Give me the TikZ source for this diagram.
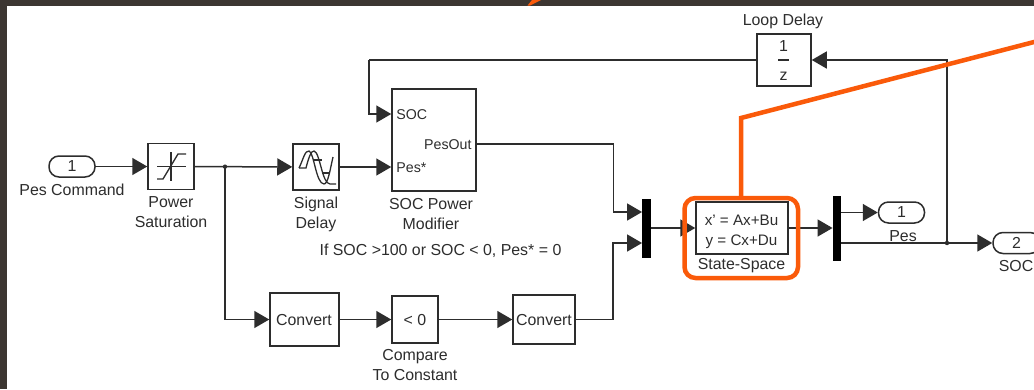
\documentclass[tikz,border=0pt]{standalone}
\usepackage{fontspec}
\setmainfont{Liberation Sans}
\usetikzlibrary{arrows.meta,positioning,calc}
\definecolor{frameDark}{RGB}{60,54,50}
\definecolor{wireDark}{RGB}{45,45,45}
\definecolor{calloutOrange}{RGB}{250,90,10}
\begin{document}
\begin{tikzpicture}[x=1pt,y=-1pt,
    font=\fontsize{15.9}{20}\selectfont, text=wireDark,
    block/.style={draw=wireDark, line width=1.5pt, fill=white, inner sep=0pt},
    port/.style={draw=wireDark, line width=1.5pt, fill=white, rounded corners=10pt,
                 minimum width=46pt, minimum height=21pt, inner sep=0pt},
    bar/.style={fill=black, inner sep=0pt, minimum width=8.5pt},
    label/.style={align=center, inner sep=0pt},
    inner/.style={label, font=\fontsize{14.2}{20}\selectfont},
    wire/.style={draw=wireDark, line width=1.5pt},
    icon/.style={draw=wireDark, line width=1.3pt},
    sig/.style={wire, -{Triangle[length=15pt,width=17pt]}},
    callout/.style={draw=calloutOrange, line width=4.5pt}]
  \useasboundingbox (0,0) rectangle (1034,389);
  \fill[white] (0,0) rectangle (1034,389);

  % Frame and callout tip
  \fill[frameDark] (0,0) rectangle (1034,5.5);
  \fill[frameDark] (0,0) rectangle (6.5,389);
  \fill[calloutOrange] (527.5,5.5) -- (532,0) -- (541,0) -- (530,5.5) -- cycle;

  % Blocks
  \node[port] (pesIn) at (72,166.5) {1};
  \node[label] (pesInLab) at (72,190) {Pes Command};
  \node[block, minimum width=46pt, minimum height=46pt] (sat) at (171,166.5) {};
  \node[label, below=6pt of sat] (satLab) {Power\\Saturation};
  \node[block, minimum width=46pt, minimum height=46pt] (delay) at (316,167) {};
  \node[label, below=6.5pt of delay] (delayLab) {Signal\\Delay};
  \node[block, minimum width=84pt, minimum height=102pt] (modifier) at (434,140) {};
  \node[label] (modifierLab) at (431,214) {SOC Power\\Modifier};
  \node[right=5pt of modifier.west, yshift=25pt, inner] (socPort) {SOC};
  \node[right=5pt of modifier.west, yshift=-28pt, inner] (pesPort) {Pes*};
  \node[left=5pt of modifier.east, yshift=-5pt, inner] (outPort) {PesOut};
  \node[block, minimum width=54pt, minimum height=52pt] (loop) at (784,60) {};
  \node[label] (loopLab) at (783,21) {Loop Delay};
  \node[label] (one) at (783.5,46) {1};
  \node[label] (zed) at (783.5,76) {z};
  \node[block, minimum width=69pt, minimum height=53pt] (convA) at (304.5,319.5) {};
  \node[label] (convAText) at (304,320.5) {Convert};
  \node[block, minimum width=46pt, minimum height=47pt] (cmp) at (415,319.5) {};
  \node[label] (cmpText) at (415,320.5) {< 0};
  \node[label, below=5pt of cmp] (cmpLab) {Compare\\To Constant};
  \node[block, minimum width=62pt, minimum height=49pt] (convB) at (544,319.5) {};
  \node[label] (convBText) at (544,320.5) {Convert};
  \node[label] (note) at (440.5,251) {If SOC >100 or SOC < 0, Pes* = 0};
  \node[bar, minimum height=59pt] (muxA) at (646.5,228) {};
  \node[block, minimum width=92pt, minimum height=52pt] (ss) at (742,228) {};
  \node[label, font=\fontsize{15.2}{20}\selectfont] (ssText) at (741.5,231.5) {x' = Ax+Bu\\y = Cx+Du};
  \node[label] (ssLab) at (741.5,266) {State-Space};
  \node[bar, minimum height=65pt] (muxB) at (837,228) {};
  \node[port] (pesOut) at (901.5,212.5) {1};
  \node[label] (pesOutLab) at (903,236) {Pes};
  \node[port, minimum width=47pt] (socOut) at (1016.5,243) {2};
  \node[label] (socOutLab) at (1016,266) {SOC};

  % Block icons
  \draw[icon] (171,152) -- (171,181) (157,166.5) -- (186,166.5);
  \draw[icon] (157,179) -- (163,179) -- (178,154) -- (186,154);
  \draw[icon] (299,168) .. controls (303,160) and (305,150) .. (309,151)
      .. controls (314,152) and (316,184) .. (324,184)
      .. controls (328,184) and (330,170) .. (333,157);
  \draw[icon] (299,168) -- (306,168) .. controls (308,160) and (311,150) .. (314,151)
      .. controls (320,152) and (322,184) .. (330,184) -- (336,184);
  \draw[icon] (314,160) -- (322,160) (322,173) -- (330,173);
  \draw[wire] (778,60) -- (789,60);

  % Connections
  \coordinate (branch) at ($(sat.east)!0.31!(delay.west)$);
  \coordinate (feedback) at (947,60);
  \coordinate (tap) at (feedback |- socOut.west);
  \coordinate (loopTurn) at (369,60);
  \draw[sig] (pesIn) -- (sat);
  \draw[sig] (sat) -- (delay);
  \draw[sig] (delay.east) -- (delay.east -| modifier.west);
  \draw[sig] (branch) |- (convA.west);
  \draw[sig] (convA) -- (cmp);
  \draw[sig] (cmp) -- (convB);
  \draw[wire] (loop.west) -- (loopTurn);
  \draw[sig] (loopTurn) |- (modifier.west |- 0,114);
  \draw[sig] (modifier.east |- 0,144) -- ++(136.5,0) |- (muxA.west |- 0,212);
  \draw[sig] (convB.east) -- ++(37,0) |- (muxA.west |- 0,243);
  \draw[sig] (muxA.east) -- (ss.west);
  \draw[sig] (ss.east) -- (muxB.west |- ss.east);
  \draw[sig] (muxB.east |- pesOut.west) -- (pesOut.west);
  \draw[sig] (muxB.east |- socOut.west) -- (socOut.west);
  \draw[sig] (tap) -- (feedback) -- (loop.east);
  \fill[wireDark] (branch) circle (2.2pt);
  \fill[wireDark] (tap) circle (2.2pt);

  % Orange callout
  \draw[callout, rounded corners=11pt] (684.5,198) rectangle (798,278);
  \draw[callout] (741,198) -- (741,118) -- (1036,41.5);
\end{tikzpicture}
\end{document}
